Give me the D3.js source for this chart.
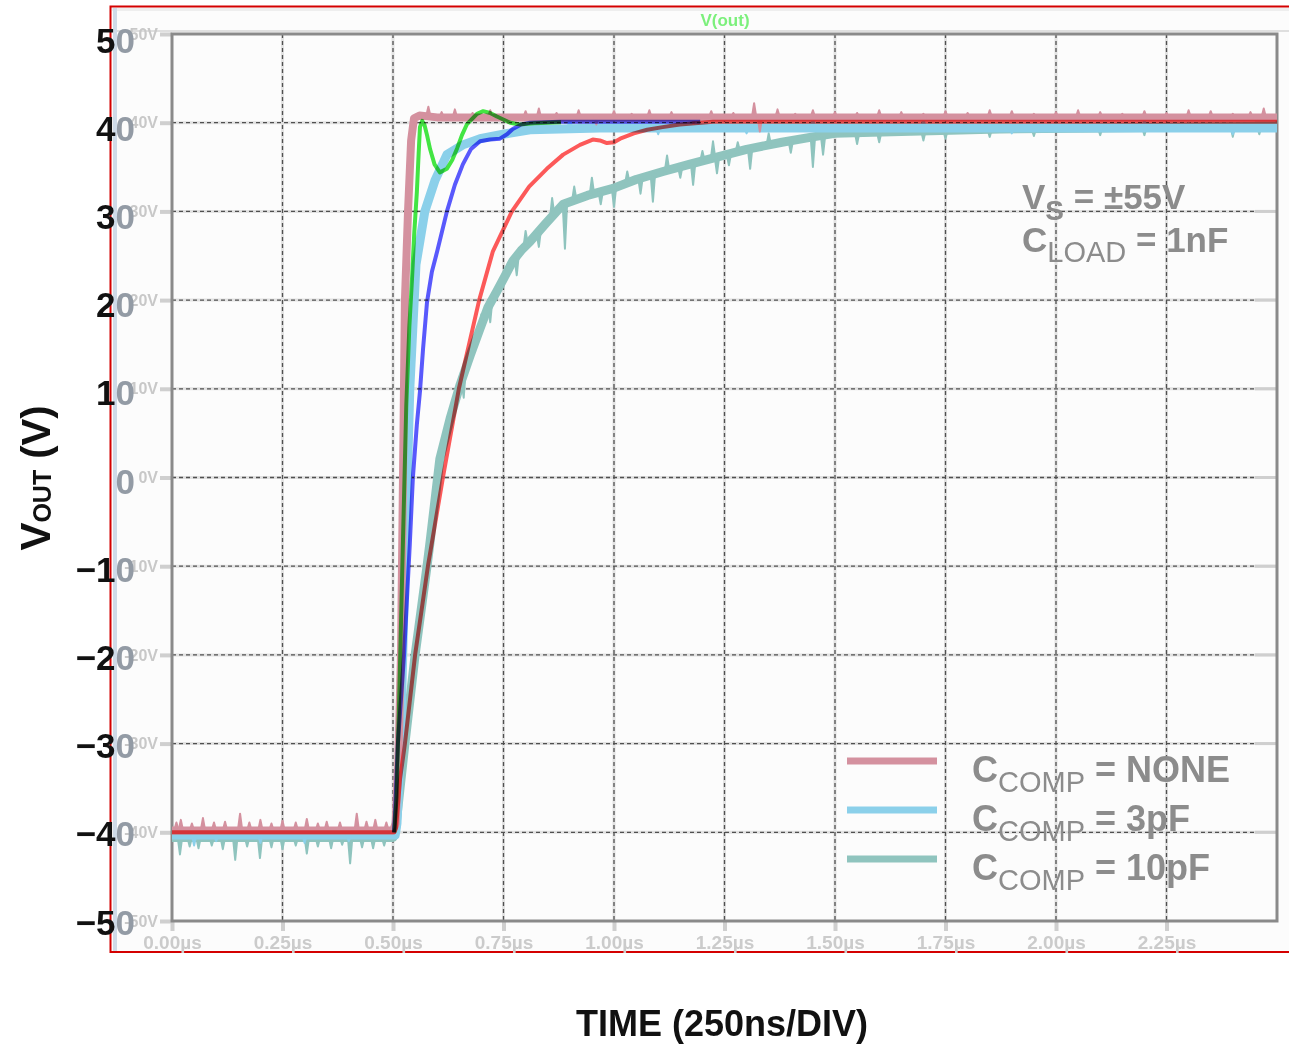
<!DOCTYPE html>
<html>
<head>
<meta charset="utf-8">
<script src="https://cdn.jsdelivr.net/npm/d3@7"></script>
<style>
  body { margin: 0; background: #ffffff; }
  text { font-family: "Liberation Sans", Arial, sans-serif; }
</style>
</head>
<body>
<svg id="chart" width="1289" height="1046"></svg>
<script>
// ---- axis ticks ----
const timeTicks = [0, 0.25, 0.5, 0.75, 1.0, 1.25, 1.5, 1.75, 2.0, 2.25, 2.5];
const timeTickLabels = ["0.00µs", "0.25µs", "0.50µs", "0.75µs", "1.00µs", "1.25µs",
                        "1.50µs", "1.75µs", "2.00µs", "2.25µs", ""];
const voltTicks = [50, 40, 30, 20, 10, 0, -10, -20, -30, -40, -50];
const voltTickLabels = ["50V", "40V", "30V", "20V", "10V", "0V", "-10V", "-20V", "-30V", "-40V", "-50V"];
const voltBigLabels = ["50", "40", "30", "20", "10", "0", "−10", "−20", "−30", "−40", "−50"];

// ---- measured step responses [time µs, volts] ----
const measNone = [[0,-39.8],[0.5,-39.8],[0.506,-39],[0.512,-32],[0.518,-20],[0.5226,0],[0.527,20],
  [0.534,30],[0.541,38],[0.5475,40.5],[0.56,40.8],[0.6,40.6],[1.0,40.6],[2.5,40.6]];
const spikesNone = [[0.01,-38.9],[0.02,-38.6],[0.045,-39.0],[0.07,-38.4],[0.095,-38.9],[0.12,-38.8],
  [0.154,-37.9],[0.175,-38.9],[0.2,-38.6],[0.225,-39.0],[0.25,-38.7],[0.28,-38.9],[0.305,-38.5],
  [0.33,-39.0],[0.35,-38.8],[0.38,-38.9],[0.418,-37.9],[0.44,-38.8],[0.46,-38.6],[0.485,-38.9],
  [0.58,41.8],[0.61,41.2],[0.64,41.5],[0.68,41.1],[0.72,41.4],[0.76,40.0],[0.8,41.3],[0.83,41.6],
  [0.87,41.1],[0.92,41.4],[0.96,39.8],[1.0,41.3],[1.04,41.0],[1.08,41.4],[1.13,41.2],[1.18,39.9],
  [1.22,41.3],[1.27,41.1],[1.317,42.2],[1.33,39.0],[1.37,41.5],[1.41,41.0],[1.45,41.4],[1.5,41.2],
  [1.55,41.1],[1.6,41.4],[1.65,41.2],[1.7,41.0],[1.75,41.3],[1.8,41.1],[1.85,41.4],[1.9,41.3],
  [1.95,41.0],[2.0,41.2],[2.05,41.4],[2.1,41.2],[2.15,41.0],[2.2,41.3],[2.25,41.1],[2.3,41.4],
  [2.35,41.3],[2.4,41.0],[2.44,41.2],[2.47,41.6]];

const meas3pF = [[0,-40.3],[0.505,-40.3],[0.509,-39],[0.517,-30],[0.527,-10],[0.538,10],[0.552,24],
  [0.572,30],[0.595,33.5],[0.622,36.4],[0.658,37.5],[0.697,38.2],[0.749,38.7],[0.81,39.2],
  [0.968,39.4],[2.5,39.4]];
const spikes3pF = [[0.05,-41.5],[0.1,-41.0],[0.2,-41.2],[0.3,-41.2],[0.4,-41.0],[0.9,40.8],[1.1,38.7],
  [1.3,38.8],[1.45,40.6],[1.7,40.5],[1.9,38.8],[2.2,40.4],[2.4,38.7]];

const meas10pF = [[0,-40.6],[0.5,-40.6],[0.505,-40],[0.527,-30],[0.55,-20],[0.577,-10],[0.584,-7.2],
  [0.606,2.1],[0.63,6.8],[0.652,10.5],[0.675,13.8],[0.697,16.8],[0.715,19.2],[0.735,21],
  [0.752,22.6],[0.771,24.4],[0.79,25.6],[0.81,26.6],[0.845,28.6],[0.885,30.8],[0.94,31.8],
  [0.998,32.6],[1.05,33.6],[1.111,34.5],[1.17,35.3],[1.224,36],[1.3,37],[1.38,37.8],[1.45,38.4],
  [1.5,38.8],[1.65,39.0],[1.873,39.3],[2.1,39.4],[2.5,39.6]];
const spikes10pF = [[0.018,-42.5],[0.04,-41.6],[0.06,-41.8],[0.09,-41.5],[0.115,-41.9],[0.143,-43.1],
  [0.17,-41.6],[0.199,-42.9],[0.225,-41.7],[0.25,-41.9],[0.28,-41.5],[0.305,-42.4],[0.33,-41.6],
  [0.36,-41.8],[0.385,-41.4],[0.403,-43.5],[0.43,-41.7],[0.455,-41.8],[0.48,-41.5],
  [0.66,9.0],[0.7,18.4],[0.72,17.5],[0.76,24.2],[0.78,22.8],[0.8,27.8],[0.83,26.0],[0.86,31.5],
  [0.889,25.8],[0.91,32.8],[0.95,33.8],[0.97,30.8],[1.0,30.5],[1.03,34.5],[1.06,32.0],[1.088,31.1],
  [1.12,36.3],[1.15,33.8],[1.179,33],[1.2,36.8],[1.224,37.9],[1.233,34.3],[1.26,35.2],[1.28,37.8],
  [1.308,34.8],[1.35,38.8],[1.4,36.6],[1.45,35],[1.473,36.4],[1.52,39.2],[1.55,37.6],[1.6,37.8],
  [1.65,39.6],[1.7,38.0],[1.75,38.2],[1.8,39.8],[1.85,38.4],[1.95,38.5],[2.0,39.9],[2.1,38.6],
  [2.2,38.6],[2.3,40.0],[2.4,38.4],[2.46,38.7]];

// ---- simulated V(out) traces [time µs, volts] ----
const simGreen = [[0.503,-40],[0.508,-36],[0.514,-25],[0.5226,-7],[0.53,8],[0.537,17],[0.543,22.4],
  [0.548,27.5],[0.554,32.2],[0.558,36.5],[0.561,39.5],[0.566,40.2],[0.571,39.8],[0.577,38.6],
  [0.584,37],[0.594,35.3],[0.606,34.4],[0.622,34.8],[0.634,35.8],[0.645,37.1],[0.656,38.6],
  [0.667,39.8],[0.69,41.0],[0.704,41.3],[0.72,41.1],[0.735,40.7],[0.765,40.0],[0.787,39.8],
  [0.82,39.95],[0.88,40.05]];
const simBlue = [[0.502,-40],[0.5045,-38],[0.511,-30],[0.525,-20],[0.538,-7.5],[0.545,0],[0.554,6],
  [0.561,9.7],[0.568,14.5],[0.577,19.8],[0.588,23.2],[0.6,25.5],[0.622,30],[0.64,33],[0.658,35.3],
  [0.676,37],[0.697,37.9],[0.719,38.1],[0.742,38.2],[0.758,38.7],[0.771,39.3],[0.79,39.8],
  [0.81,40.0],[0.878,40.1],[1.195,40.1]];
const simRed = [[0,-40],[0.503,-40],[0.507,-39.5],[0.516,-34],[0.527,-30],[0.55,-20],[0.579,-10],
  [0.613,0],[0.649,10],[0.695,20],[0.726,25.5],[0.769,30],[0.808,32.8],[0.848,34.8],[0.885,36.4],
  [0.923,37.5],[0.952,38.1],[0.968,38.0],[0.984,37.7],[1.0,37.8],[1.014,38.2],[1.045,38.8],
  [1.075,39.2],[1.11,39.5],[1.149,39.8],[1.224,40.1],[2.5,40.1]];

// ---- legend ----
const legendLabels = ["NONE", "3pF", "10pF"];
const legendColors = ["#d4919f", "#8bd0ea", "#8fc4be"];

// ---------------------------------------------------------------
const svg = d3.select("#chart");
const W = 1289, H = 1046;
const plot = { left: 172, right: 1277, top: 34, bottom: 921 };

const x = d3.scaleLinear().domain([0, 2.5]).range([plot.left, plot.right]);
const y = d3.scaleLinear().domain([-50, 50]).range([plot.bottom, plot.top]);
// the large printed volt labels sit on a slightly offset scale
const yBig = d3.scaleLinear().domain([-50, 50]).range([922, 40]);

svg.append("rect").attr("width", W).attr("height", H).attr("fill", "#ffffff");

// simulator window panel
svg.append("rect").attr("x", 110).attr("y", 6).attr("width", W - 110).attr("height", 946)
  .attr("fill", "#fcfcfc");
svg.append("rect").attr("x", 112).attr("y", 8).attr("width", W - 112).attr("height", 3).attr("fill", "#eeeeee");
svg.append("rect").attr("x", 113).attr("y", 8).attr("width", 4).attr("height", 943).attr("fill", "#cfdbe8");
svg.append("line").attr("x1", 117).attr("x2", W).attr("y1", 31).attr("y2", 31)
  .attr("stroke", "#d6d6d6").attr("stroke-width", 1.5);
svg.append("path").attr("d", `M${W},6.5H110.5V952H${W}`).attr("fill", "none")
  .attr("stroke", "#d40000").attr("stroke-width", 2);

svg.append("text").attr("x", 725).attr("y", 26).attr("text-anchor", "middle")
  .attr("font-size", 17).attr("font-weight", "bold").attr("fill", "#7cf07c").text("V(out)");

// grid
const grid = svg.append("g");
const vx = timeTicks.slice(1, -1), hy = voltTicks.slice(1, -1);
grid.selectAll(".vb").data(vx).join("line")
  .attr("x1", d => x(d)).attr("x2", d => x(d)).attr("y1", plot.top).attr("y2", plot.bottom)
  .attr("stroke", "#e2e2e2").attr("stroke-width", 3);
grid.selectAll(".hb").data(hy).join("line")
  .attr("y1", d => y(d)).attr("y2", d => y(d)).attr("x1", plot.left).attr("x2", plot.right)
  .attr("stroke", "#e2e2e2").attr("stroke-width", 3);
grid.selectAll(".vd").data(vx).join("line")
  .attr("x1", d => x(d)).attr("x2", d => x(d)).attr("y1", plot.top).attr("y2", plot.bottom)
  .attr("stroke", "#505050").attr("stroke-width", 1.3).attr("stroke-dasharray", "4,3");
grid.selectAll(".hd").data(hy).join("line")
  .attr("y1", d => y(d)).attr("y2", d => y(d)).attr("x1", plot.left).attr("x2", plot.right)
  .attr("stroke", "#505050").attr("stroke-width", 1.3).attr("stroke-dasharray", "4,3");
// right-side inner tick stubs
grid.selectAll(".rt").data(hy).join("line")
  .attr("y1", d => y(d)).attr("y2", d => y(d)).attr("x1", plot.right - 22).attr("x2", plot.right)
  .attr("stroke", "#cfcfcf").attr("stroke-width", 3);

// axes (simulator style, light grey)
const xAxis = d3.axisBottom(x).tickValues(timeTicks.slice(0, -1))
  .tickFormat((d, i) => timeTickLabels[i]).tickSize(10).tickPadding(5);
const gx = svg.append("g").attr("transform", `translate(0,${plot.bottom})`).call(xAxis);
gx.select(".domain").remove();
gx.selectAll(".tick line").attr("stroke", "#cfcfcf").attr("stroke-width", 4);
gx.selectAll(".tick text").attr("fill", "#cbcbcb").attr("font-size", 19).attr("font-weight", "bold")
  .attr("font-family", "'Liberation Sans', Arial, sans-serif");

const yAxis = d3.axisLeft(y).tickValues(voltTicks)
  .tickFormat((d, i) => voltTickLabels[i]).tickSize(12).tickPadding(2);
const gy = svg.append("g").attr("transform", `translate(${plot.left},0)`).call(yAxis);
gy.select(".domain").remove();
gy.selectAll(".tick line").attr("stroke", "#cfcfcf").attr("stroke-width", 4);
gy.selectAll(".tick text").attr("fill", "#c8c8c8").attr("font-size", 16).attr("font-weight", "bold")
  .attr("font-family", "'Liberation Sans', Arial, sans-serif");

// plot frame
svg.append("rect").attr("x", plot.left).attr("y", plot.top)
  .attr("width", plot.right - plot.left).attr("height", plot.bottom - plot.top)
  .attr("fill", "none").attr("stroke", "#8a8a8a").attr("stroke-width", 3);

// large printed volt labels (last digit lies under the panel tint)
const big = svg.append("g");
big.selectAll("text").data(voltTicks).join("text")
  .attr("x", 135).attr("y", d => yBig(d) + 12.5).attr("text-anchor", "end")
  .attr("font-size", 35).attr("font-weight", "bold")
  .each(function (d, i) {
    const s = voltBigLabels[i];
    const t = d3.select(this);
    t.append("tspan").attr("fill", "#111111").text(s.slice(0, -1));
    t.append("tspan").attr("fill", "#939ba5").text(s.slice(-1));
  });

// helpers
const line = d3.line().x(d => x(d[0])).y(d => y(d[1]));
const bis = d3.bisector(d => d[0]).left;
function valueAt(series, t) {
  const i = Math.max(1, Math.min(series.length - 1, bis(series, t)));
  const a = series[i - 1], b = series[i];
  const k = (t - a[0]) / (b[0] - a[0]);
  return a[1] + (b[1] - a[1]) * Math.max(0, Math.min(1, k));
}
function drawMeasured(series, spikes, color, width) {
  const g = svg.append("g");
  g.append("path").attr("d", line(series)).attr("fill", "none").attr("stroke", color)
    .attr("stroke-width", width).attr("stroke-linejoin", "round");
  const w = 0.005;
  g.selectAll("path.sp").data(spikes).join("path").attr("class", "sp")
    .attr("d", d => {
      const t0 = d[0] - w, t1 = d[0] + w;
      return "M" + x(t0) + "," + y(valueAt(series, t0)) +
             "L" + x(d[0]) + "," + y(d[1]) +
             "L" + x(t1) + "," + y(valueAt(series, t1)) + "Z";
    })
    .attr("fill", color).attr("stroke", color).attr("stroke-width", 2).attr("stroke-linejoin", "round");
}
drawMeasured(meas10pF, spikes10pF, legendColors[2], 9);
drawMeasured(meas3pF, spikes3pF, legendColors[1], 9);
drawMeasured(measNone, spikesNone, legendColors[0], 8);

// simulated traces, multiplied over the measured ones
const sim = svg.append("g");
[[simGreen, "#44e844"], [simBlue, "#5a5aff"], [simRed, "#ff5a5a"]].forEach(([s, c]) => {
  sim.append("path").attr("d", line(s)).attr("fill", "none").attr("stroke", c)
    .attr("stroke-width", 4).attr("stroke-linejoin", "round")
    .style("mix-blend-mode", "multiply");
});

// condition annotation
const note = svg.append("g").attr("fill", "#8c8c8c").attr("font-weight", "bold");
const n1 = note.append("text").attr("x", 1022).attr("y", 209).attr("font-size", 35);
n1.append("tspan").text("V");
n1.append("tspan").attr("font-size", 28).attr("dy", 11).text("S");
n1.append("tspan").attr("dy", -11).text(" = ±55V");
const n2 = note.append("text").attr("x", 1022).attr("y", 252).attr("font-size", 35);
n2.append("tspan").text("C");
n2.append("tspan").attr("font-size", 29).attr("font-weight", "normal").attr("dy", 10).text("LOAD");
n2.append("tspan").attr("dy", -10).text(" = 1nF");

// legend
const leg = svg.append("g");
const legY = [761, 810, 859];
legendLabels.forEach((lab, i) => {
  leg.append("line").attr("x1", 847).attr("x2", 937).attr("y1", legY[i]).attr("y2", legY[i])
    .attr("stroke", legendColors[i]).attr("stroke-width", 7);
  const t = leg.append("text").attr("x", 972).attr("y", legY[i] + 21)
    .attr("font-size", 36).attr("font-weight", "bold").attr("fill", "#8c8c8c");
  t.append("tspan").text("C");
  t.append("tspan").attr("font-size", 29).attr("font-weight", "normal").attr("dy", 10).text("COMP");
  t.append("tspan").attr("dy", -10).text(" = " + lab);
});

// axis titles
const yt = svg.append("text").attr("transform", "translate(50,478) rotate(-90)")
  .attr("text-anchor", "middle").attr("font-weight", "bold").attr("fill", "#111111").attr("font-size", 42);
yt.append("tspan").text("V");
yt.append("tspan").attr("font-size", 25).attr("dy", 1).text("OUT");
yt.append("tspan").attr("font-size", 40).attr("dy", -1).text(" (V)");

svg.append("text").attr("x", 722).attr("y", 1036).attr("text-anchor", "middle")
  .attr("font-size", 36).attr("font-weight", "bold").attr("fill", "#111111")
  .text("TIME (250ns/DIV)");
</script>
</body>
</html>
